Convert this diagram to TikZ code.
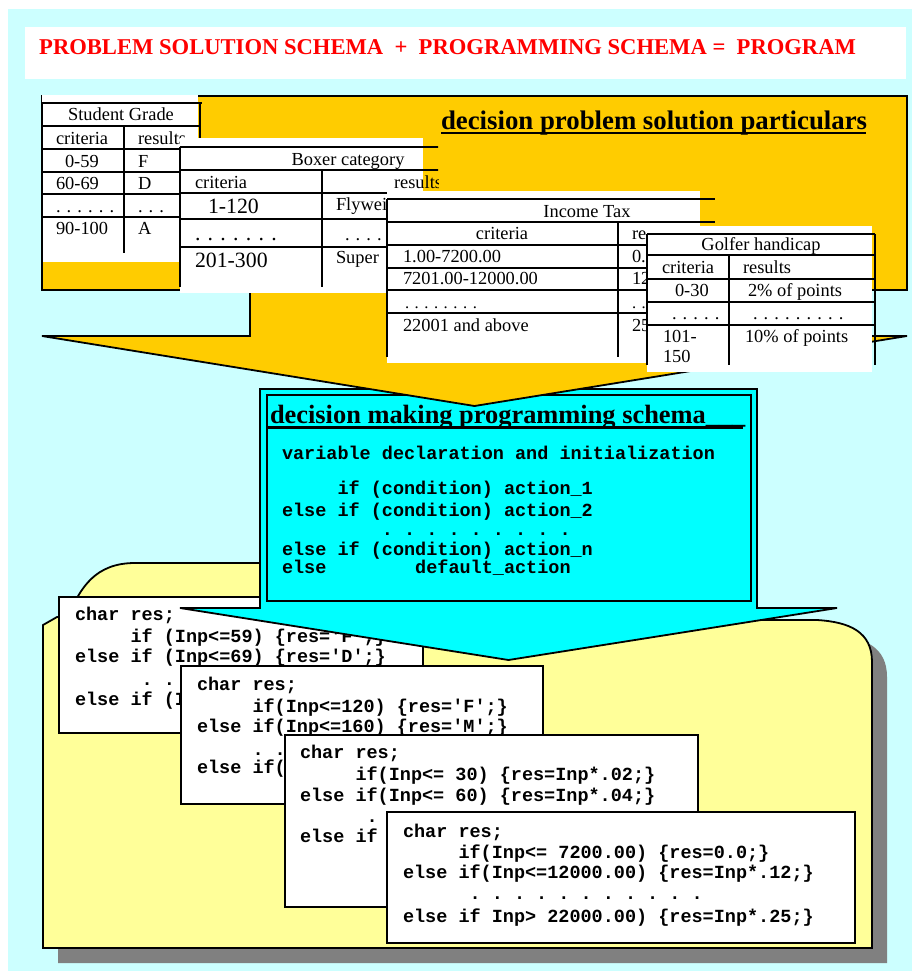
\documentclass[tikz,border=0pt]{standalone}
\usepackage{fontspec}
\setmainfont{Liberation Serif}
\setmonofont{Liberation Mono}
\definecolor{bgc}{HTML}{CCFFFF}
\definecolor{gold}{HTML}{FFCC00}
\definecolor{folderc}{HTML}{FFFF99}
\definecolor{boxc}{HTML}{00FFFF}
\definecolor{shad}{HTML}{808080}
\definecolor{titlered}{HTML}{FF0000}
\newcommand{\myq}{\textquotesingle}
\tikzset{
 ln/.style={line width=1.8pt},
 tb/.style={font=\fontsize{18.4}{20}\selectfont, anchor=base west, inner sep=0pt, outer sep=0pt},
 tbc/.style={tb, anchor=base},
 tbig/.style={font=\fontsize{21.8}{24}\selectfont, anchor=base west, inner sep=0pt, outer sep=0pt},
 tdot/.style={font=\fontsize{16.6}{18}\selectfont, anchor=base west, inner sep=0pt, outer sep=0pt},
 cd/.style={font=\ttfamily\bfseries\fontsize{18.5}{21}\selectfont, anchor=base west, inner sep=0pt, outer sep=0pt},
 codebox/.style={fill=white, draw=black, line width=1.8pt},
 head/.style={font=\bfseries\fontsize{26.4}{30}\selectfont, anchor=base west, inner sep=0pt, outer sep=0pt},
}
\begin{document}
\begin{tikzpicture}[x=1pt,y=-1pt]
\useasboundingbox (0,0) rectangle (912,971);
\fill[white] (0,0) rectangle (912,971);
\fill[bgc] (8,9) rectangle (912,971);
\fill[white] (25,27) rectangle (906,79);
\node[anchor=base west, inner sep=0pt, text=titlered, font=\bfseries\fontsize{22.6}{26}\selectfont] (title) at (39,55) {PROBLEM SOLUTION SCHEMA\ \ +\ \ PROGRAMMING SCHEMA =\ \ PROGRAM};

% ---------- folder ----------
\def\folderpath{(43,625) -- (57,617) -- (68,617) .. controls (80,588) and (95,563) .. (135,563) -- (620,563) .. controls (640,563) and (650,590) .. (660,620) -- (817,620) .. controls (850,622) and (872,632) .. (872,662) -- (872,948) -- (43,948) -- cycle}
\begin{scope}[shift={(15,15)}]
\fill[shad] \folderpath;
\end{scope}
\filldraw[fill=folderc, draw=black, line width=1.8pt] \folderpath;

% ---------- code box 1 ----------
\draw[codebox] (59,597) rectangle (423,733);
\node[cd] (a1) at (75,620) {char res;};
\node[cd] (a2) at (130.5,642) {if (Inp<=59) \{res=\myq F\myq;\}};
\node[cd] (a3) at (75,662) {else if (Inp<=69) \{res=\myq D\myq;\}};
\node[cd] (a4) at (141.6,685) {. .};
\node[cd] (a5) at (75,705) {else if (I};

% ---------- cyan arrow box ----------
\filldraw[fill=boxc, draw=black, line width=1.8pt] (260,389) -- (757,389) -- (757,608) -- (837,608) -- (508.5,660) -- (180,608) -- (260,608) -- cycle;
\draw[line width=1.8pt] (267,395) rectangle (751,601);
\node[head] (schema) at (270,423) {decision making programming schema\_\_\_};
\draw[line width=2.6pt] (268,427.5) -- (743,427.5);
\node[cd] (c1) at (282,459) {variable declaration and initialization};
\node[cd] (c2) at (337.5,494) {if (condition) action\_1};
\node[cd] (c3) at (282,516) {else if (condition) action\_2};
\node[cd] (c4) at (381.9,535) {. . . . . . . . .};
\node[cd] (c5) at (282,555) {else if (condition) action\_n};
\node[cd] (c6) at (282,573) {else};
\node[cd] (c7) at (415.2,573) {default\_action};

% ---------- yellow rectangle and arrow ----------
\filldraw[fill=gold, draw=black, line width=1.8pt] (42,96) rectangle (907,290);
\fill[gold] (699,288) -- (699,336) -- (907,336) -- (474.5,406) -- (42,336) -- (250,336) -- (250,288) -- cycle;
\draw[line width=1.8pt, line join=miter] (699,290) -- (699,336) -- (907,336) -- (474.5,406) -- (42,336) -- (250,336) -- (250,290);

% ---------- Student Grade ----------
\fill[white] (42,95) rectangle (198,262);
\draw[ln] (42,103) -- (202,103);
\foreach \yy in {126,149,172,194,217} \draw[ln] (42,\yy) -- (200,\yy);
\draw[ln] (42,103) -- (42,290);
\draw[ln] (200,103) -- (200,217);
\draw[ln] (124,126) -- (124,253);
\node[tbc] (sg) at (121,121) {Student Grade};
\node[tb] (sg1) at (56,144) {criteria};
\node[tb] (sg2) at (138,144) {results};
\node[tb] (sg3) at (65,167) {0-59};
\node[tb] (sg4) at (138,167) {F};
\node[tb] (sg5) at (56,189) {60-69};
\node[tb] (sg6) at (138,189) {D};
\node[tb] (sg7) at (56,212) {. . . . . .};
\node[tb] (sg8) at (138,212) {. . .};
\node[tb] (sg9) at (56,234) {90-100};
\node[tb] (sg10) at (138,234) {A};

% ---------- Boxer category ----------
\begin{scope}
\clip (170,130) rectangle (438,300);
\fill[white] (180,138) rectangle (423,293);
\foreach \yy in {147,170,193,219,247} \draw[ln] (180,\yy) -- (440,\yy);
\draw[ln] (180,147) -- (180,287);
\draw[ln] (322,170) -- (322,287);
\node[tbc] (bx) at (348,165) {Boxer category};
\node[tb] (bx1) at (195,188) {criteria};
\node[tb] (bx2) at (394,188) {results};
\node[tbig] (bx3) at (208,213) {1-120};
\node[tb] (bx4) at (336,210) {Flyweight};
\node[tbig] (bx5) at (195,240) {. . . . . . .};
\node[tb] (bx6) at (345,240) {. . . . .};
\node[tbig] (bx7) at (195,267) {201-300};
\node[tb] (bx8) at (336,263) {Super};
\end{scope}

% ---------- Income Tax ----------
\fill[white] (387,191) rectangle (700,363);
\draw[ln] (387,199) -- (715,199);
\draw[ln] (387,222) -- (715,222);
\foreach \yy in {245,268,290,313} \draw[ln] (387,\yy) -- (700,\yy);
\draw[ln] (387,199) -- (387,357);
\draw[ln] (618,222) -- (618,357);
\node[tbc] (it) at (587,217) {Income Tax};
\node[tbc] (it1) at (502,239) {criteria};
\node[tb] (it2) at (632,239) {results};
\node[tb] (it3) at (403,262) {1.00-7200.00};
\node[tb] (it4) at (632,262) {0.0};
\node[tb] (it5) at (403,284) {7201.00-12000.00};
\node[tb] (it6) at (632,284) {12\%};
\node[tdot] (it7) at (405,308) {. . . . . . . .};
\node[tdot] (it8) at (632,308) {. .};
\node[tb] (it9) at (403,331) {22001 and above};
\node[tb] (it10) at (632,331) {25\%};

% ---------- Golfer handicap ----------
\fill[white] (647,226) rectangle (872,372);
\foreach \yy in {234,255,279,302,325} \draw[ln] (647,\yy) -- (875,\yy);
\draw[ln] (647,234) -- (647,365);
\draw[ln] (875,234) -- (875,365);
\draw[ln] (729,255) -- (729,365);
\node[tbc] (gh) at (761,250) {Golfer handicap};
\node[tb] (gh1) at (662,273) {criteria};
\node[tb] (gh2) at (743,273) {results};
\node[tb] (gh3) at (675,296) {0-30};
\node[tb] (gh4) at (748,296) {2\% of points};
\node[tb] (gh5) at (672,319) {. . . . .};
\node[tb] (gh6) at (753,319) {. . . . . . . . .};
\node[tb] (gh7) at (663,342) {101-};
\node[tb] (gh8) at (663,362) {150};
\node[tb] (gh9) at (745,342) {10\% of points};

% ---------- particulars heading ----------
\node[head, font=\bfseries\fontsize{26.8}{30}\selectfont] (part) at (441,129) {decision problem solution particulars};
\draw[line width=2pt] (441,132.5) -- (866,132.5);

% ---------- code box 2 ----------
\draw[codebox] (181,666) rectangle (543,804);
\node[cd] (b1) at (197,690) {char res;};
\node[cd] (b2) at (252.5,712) {if(Inp<=120) \{res=\myq F\myq;\}};
\node[cd] (b3) at (197,732) {else if(Inp<=160) \{res=\myq M\myq;\}};
\node[cd] (b4) at (252.5,755) {. .};
\node[cd] (b5) at (197,773) {else if(};

% ---------- code box 3 ----------
\draw[codebox] (285,735) rectangle (698,907);
\node[cd] (d1) at (300,758) {char res;};
\node[cd] (d2) at (355.5,780) {if(Inp<= 30) \{res=Inp*.02;\}};
\node[cd] (d3) at (300,801) {else if(Inp<= 60) \{res=Inp*.04;\}};
\node[cd] (d4) at (366.6,822) {.};
\node[cd] (d5) at (300,842) {else if};

% ---------- code box 4 ----------
\draw[codebox] (387,812) rectangle (855,943);
\node[cd] (e1) at (403,837) {char res;};
\node[cd] (e2) at (458.5,858) {if(Inp<= 7200.00) \{res=0.0;\}};
\node[cd] (e3) at (403,878) {else if(Inp<=12000.00) \{res=Inp*.12;\}};
\node[cd] (e4) at (469.6,899) {. . . . . . . . . . .};
\node[cd] (e5) at (403,922) {else if Inp> 22000.00) \{res=Inp*.25;\}};
\end{tikzpicture}
\end{document}
